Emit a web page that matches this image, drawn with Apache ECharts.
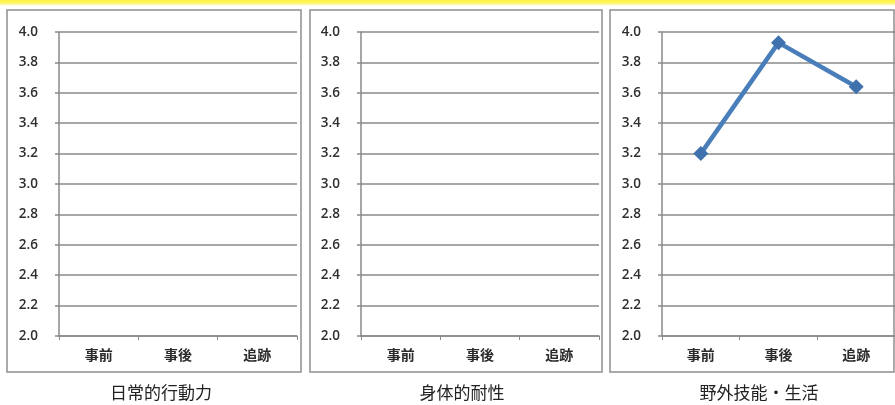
<!DOCTYPE html>
<html>
<head>
<meta charset="utf-8">
<script src="https://cdn.jsdelivr.net/npm/echarts@6/dist/echarts.min.js"></script>
<style>
  html, body { margin: 0; padding: 0; background: #ffffff; }
  #chart { width: 895px; height: 405px; }
</style>
</head>
<body>
<div id="chart"></div>
<script>
// Categories (timing of measurement)
var categories = ['事前', '事後', '追跡'];

// Panel titles
var panelTitles = ['日常的行動力', '身体的耐性', '野外技能・生活'];

// Mean scores per panel (first two panels have no plotted values)
var dailyAction = [null, null, null];
var physicalEndurance = [null, null, null];
var outdoorSkills = [3.2, 3.93, 3.64];

// Value axis range
var yMin = 2.0;
var yMax = 4.0;
var yStep = 0.2;

var seriesData = [dailyAction, physicalEndurance, outdoorSkills];

// Layout of the three panels
var panels = [
  { boxLeft: 7,   boxRight: 301, plotLeft: 59,  titleX: 161 },
  { boxLeft: 310, boxRight: 602, plotLeft: 361, titleX: 462 },
  { boxLeft: 610, boxRight: 894, plotLeft: 662, titleX: 759 }
];
var plotWidth = 238;
var plotTop = 32;
var plotHeight = 304;
var boxTop = 10;
var boxBottom = 372;

var lineGray = '#8a8a8a';
var labelFont = '"Noto Sans CJK JP", "Noto Sans", sans-serif';

var grids = [], xAxes = [], yAxes = [], series = [], graphics = [];

// Thin yellow band along the top edge
graphics.push({
  type: 'rect',
  shape: { x: 0, y: 0, width: 895, height: 6 },
  style: {
    fill: new echarts.graphic.LinearGradient(0, 0, 0, 1, [
      { offset: 0, color: '#fff23a' },
      { offset: 0.6, color: '#fff57a' },
      { offset: 1, color: '#ffffff' }
    ])
  },
  silent: true
});

panels.forEach(function (p, i) {
  grids.push({
    left: p.plotLeft,
    top: plotTop,
    width: plotWidth,
    height: plotHeight,
    containLabel: false
  });
  xAxes.push({
    type: 'category',
    gridIndex: i,
    data: categories,
    boundaryGap: true,
    axisLine: { show: true, lineStyle: { color: lineGray, width: 1.5 } },
    axisTick: { show: true, length: 4, alignWithLabel: false, lineStyle: { color: lineGray } },
    axisLabel: {
      margin: 12,
      color: '#2b2b2b',
      fontSize: 14,
      fontWeight: 'bold',
      fontFamily: labelFont
    },
    splitLine: { show: false }
  });
  yAxes.push({
    type: 'value',
    gridIndex: i,
    min: yMin,
    max: yMax,
    interval: yStep,
    axisLine: { show: true, lineStyle: { color: lineGray, width: 1.5 } },
    axisTick: { show: true, length: 4, lineStyle: { color: lineGray, width: 1.5 } },
    axisLabel: {
      margin: 21,
      color: '#2e2e2e',
      fontSize: 13.5,
      fontWeight: 600,
      fontFamily: '"Open Sans", "Liberation Sans", sans-serif',
      formatter: function (v) { return v.toFixed(1); }
    },
    splitLine: { show: true, lineStyle: { color: lineGray, width: 1.5 } }
  });
  series.push({
    type: 'line',
    xAxisIndex: i,
    yAxisIndex: i,
    data: seriesData[i],
    symbol: 'diamond',
    symbolSize: 15,
    showSymbol: true,
    connectNulls: false,
    lineStyle: { color: '#4a7ebb', width: 4.5 },
    itemStyle: { color: '#3f72ad' },
    animation: false
  });

  // Panel frame
  graphics.push({
    type: 'rect',
    shape: { x: p.boxLeft, y: boxTop, width: p.boxRight - p.boxLeft, height: boxBottom - boxTop },
    style: { fill: null, stroke: '#8f8f8f', lineWidth: 1.5 },
    silent: true,
    z: -1
  });
  // Panel caption beneath the frame
  graphics.push({
    type: 'text',
    x: p.titleX,
    y: 393,
    style: {
      text: panelTitles[i],
      fill: '#222222',
      font: '17px "Noto Sans CJK JP", sans-serif',
      align: 'center',
      verticalAlign: 'middle'
    },
    silent: true
  });
});

var chart = echarts.init(document.getElementById('chart'), null, { renderer: 'canvas' });
chart.setOption({
  animation: false,
  backgroundColor: '#ffffff',
  grid: grids,
  xAxis: xAxes,
  yAxis: yAxes,
  series: series,
  graphic: { elements: graphics }
});
</script>
</body>
</html>
